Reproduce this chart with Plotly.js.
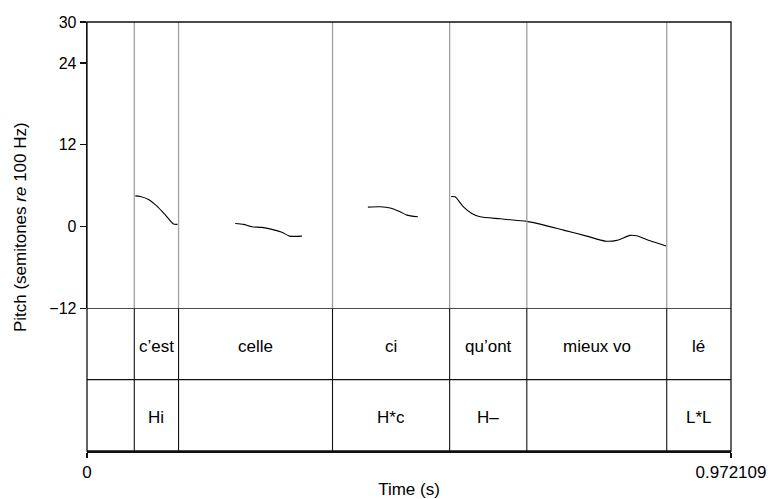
<!DOCTYPE html>
<html>
<head>
<meta charset="utf-8">
<script src="https://cdn.plot.ly/plotly-3.0.1.min.js"></script>
<style>html,body{margin:0;padding:0;background:#fff;}#chart{width:770px;height:499px;}</style>
</head>
<body>
<div id="chart"></div>
<script>
// ---- data ----
const timeStart = 0;
const timeEnd = 0.972109;
const boundaries = [0.0714, 0.1382, 0.3706, 0.5474, 0.6639, 0.8751];
const wordLabels = ["", "c’est", "celle", "ci", "qu’ont", "mieux vo", "lé"];
const toneLabels = ["", "Hi", "", "H*c", "H–", "", "L*L"];
const pitchTicks = [-12, 0, 12, 24, 30];

const seg1T = [0.0729, 0.0804, 0.0929, 0.1056, 0.1181, 0.1307, 0.1367];
const seg1P = [4.50, 4.41, 3.97, 2.99, 1.71, 0.35, 0.31];
const seg2T = [0.2237, 0.2363, 0.2489, 0.2640, 0.2791, 0.2942, 0.3057, 0.3244];
const seg2P = [0.45, 0.31, -0.04, -0.13, -0.42, -0.86, -1.41, -1.41];
const seg3T = [0.4240, 0.4425, 0.4576, 0.4727, 0.4828, 0.4994];
const seg3P = [2.84, 2.89, 2.70, 2.15, 1.67, 1.42];
const seg4T = [0.5497, 0.5557, 0.5682, 0.5809, 0.5934, 0.6236, 0.6639, 0.6839, 0.7191, 0.7544, 0.7820, 0.7996, 0.8197, 0.8298, 0.8499, 0.8740];
const seg4P = [4.41, 4.35, 2.89, 1.92, 1.42, 1.13, 0.75, 0.35, -0.53, -1.41, -2.14, -2.04, -1.30, -1.36, -2.10, -2.87];

// ---- build ----
const FONT = "Liberation Sans, Arial, Helvetica, sans-serif";
const segments = [[seg1T, seg1P], [seg2T, seg2P], [seg3T, seg3P], [seg4T, seg4P]];
const traces = segments.map(([t, p]) => ({
  x: t, y: p, type: "scatter", mode: "lines",
  line: {color: "#000", width: 1.1, shape: "spline", smoothing: 0.6},
  xaxis: "x", yaxis: "y", hoverinfo: "skip", showlegend: false
}));

const edges = [timeStart].concat(boundaries, [timeEnd]);
const shapes = [];
boundaries.forEach(b => {
  shapes.push({type: "line", xref: "x", yref: "y", x0: b, x1: b, y0: -12, y1: 30,
    line: {color: "#a0a0a0", width: 1.3}});
  shapes.push({type: "line", xref: "x", yref: "y2", x0: b, x1: b, y0: 0, y1: 2,
    line: {color: "#111", width: 1.1}});
});
// tier separators
[1, 2].forEach(v => shapes.push({type: "line", xref: "paper", yref: "y2", x0: 0, x1: 1, y0: v, y1: v,
  line: {color: "#111", width: 1.2}}));
// frame
shapes.push({type: "rect", xref: "paper", yref: "paper", x0: 0, x1: 1, y0: 0, y1: 1,
  line: {color: "#111", width: 1.3}});

const annotations = [];
for (let i = 0; i < edges.length - 1; i++) {
  const mid = (edges[i] + edges[i + 1]) / 2;
  if (wordLabels[i]) annotations.push({x: mid, y: 1.5, xref: "x", yref: "y2", text: wordLabels[i],
    showarrow: false, yshift: -3, font: {family: FONT, size: 17, color: "#000"}});
  if (toneLabels[i]) annotations.push({x: mid, y: 0.5, xref: "x", yref: "y2", text: toneLabels[i],
    showarrow: false, yshift: -2, font: {family: FONT, size: 17, color: "#000"}});
}
annotations.push({xref: "paper", yref: "paper", x: -0.104, y: 0.522, xanchor: "center", yanchor: "middle",
  textangle: -90, showarrow: false, text: "Pitch (semitones <i>re</i> 100 Hz)",
  font: {family: FONT, size: 17, color: "#000"}});

const pitchBottom = (451 - 308.3) / 429;

const layout = {
  width: 770, height: 499,
  margin: {l: 87, r: 39, t: 22, b: 48, pad: 0},
  paper_bgcolor: "#fff", plot_bgcolor: "#fff",
  font: {family: FONT, size: 16, color: "#000"},
  showlegend: false,
  xaxis: {
    range: [timeStart, timeEnd], anchor: "y2",
    tickvals: [timeStart, timeEnd], ticktext: ["0", String(timeEnd)],
    ticks: "outside", ticklen: 5, tickwidth: 1.3, tickcolor: "#111",
    showline: true, linecolor: "#111", linewidth: 1.6,
    showgrid: false, zeroline: false,
    tickfont: {family: FONT, size: 17, color: "#000"},
    title: {text: "Time (s)", font: {family: FONT, size: 17, color: "#000"}, standoff: 3}
  },
  yaxis: {
    domain: [pitchBottom, 1], range: [-12, 30], anchor: "x",
    tickvals: pitchTicks, ticks: "outside", ticklen: 6, tickwidth: 1.3, tickcolor: "#111",
    showline: true, linecolor: "#111", linewidth: 1.3,
    showgrid: false, zeroline: false,
    tickfont: {family: FONT, size: 16, color: "#000"}
  },
  yaxis2: {
    domain: [0, pitchBottom], range: [0, 2], anchor: "x",
    visible: false, fixedrange: true
  },
  shapes: shapes,
  annotations: annotations
};

Plotly.newPlot("chart", traces, layout, {staticPlot: true, displayModeBar: false});
</script>
</body>
</html>
